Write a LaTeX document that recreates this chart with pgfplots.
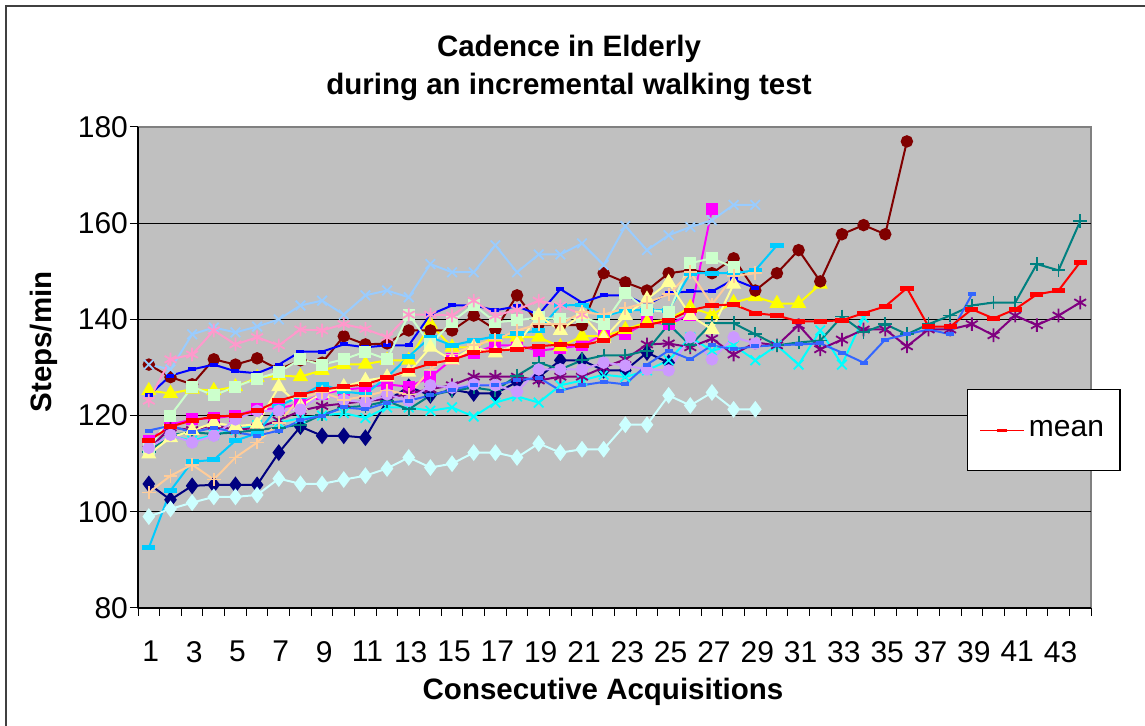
\documentclass[border=0pt]{standalone}
\usepackage{fontspec}
\setmainfont{Liberation Sans}
\usepackage{pgfplots}
\pgfplotsset{compat=1.18}

\definecolor{plotgray}{HTML}{C0C0C0}
\definecolor{edgegray}{HTML}{808080}
\definecolor{cNavy}{HTML}{000080}
\definecolor{cMagenta}{HTML}{FF00FF}
\definecolor{cYellow}{HTML}{FFFF00}
\definecolor{cCyan}{HTML}{00FFFF}
\definecolor{cPurple}{HTML}{800080}
\definecolor{cMaroon}{HTML}{800000}
\definecolor{cTeal}{HTML}{008080}
\definecolor{cBlue}{HTML}{0000FF}
\definecolor{cSky}{HTML}{00CCFF}
\definecolor{cLtCyan}{HTML}{CCFFFF}
\definecolor{cLtGreen}{HTML}{CCFFCC}
\definecolor{cLtYellow}{HTML}{FFFF99}
\definecolor{cPaleBlue}{HTML}{99CCFF}
\definecolor{cPink}{HTML}{FF99CC}
\definecolor{cLavender}{HTML}{CC99FF}
\definecolor{cTan}{HTML}{FFCC99}
\definecolor{cRoyal}{HTML}{3366FF}

\pgfplotsset{
  ser/.style={line width=1pt, mark options={solid}},
  diam/.style={ser, mark=diamond*, mark size=3.4pt},
  sqr/.style={ser, mark=square*, mark size=2.5pt},
  tri/.style={ser, mark=triangle*, mark size=3.4pt},
  crs/.style={ser, mark=x, mark size=3.4pt, mark options={line width=0.9pt}},
  ast/.style={ser, mark=asterisk, mark size=3.4pt, mark options={line width=0.9pt}},
  dot/.style={ser, mark=*, mark size=2.6pt},
  pls/.style={ser, mark=+, mark size=3.4pt, mark options={line width=0.9pt}},
  shortdash/.style={ser, mark=-, mark size=2pt, mark options={line width=2pt}},
  longdash/.style={ser, mark=-, mark size=3.3pt, mark options={line width=2.4pt}},
}

\begin{document}
\begin{tikzpicture}
\path[use as bounding box] (0,0) rectangle (572.5pt,363pt);
\draw[color=black!75, line width=1pt] (3pt,0) -- (3pt,360pt) -- (572.5pt,360pt);

\node[anchor=base, font=\fontsize{14.75}{17}\selectfont\bfseries] at (284.5pt,334.5pt) {Cadence in Elderly};
\node[anchor=base, font=\fontsize{14.75}{17}\selectfont\bfseries] at (284.5pt,315.5pt) {during an incremental walking test};
\node[anchor=base, rotate=90, font=\fontsize{14.75}{17}\selectfont\bfseries] at (25.5pt,192pt) {Steps/min};
\node[anchor=base, font=\fontsize{14.75}{17}\selectfont\bfseries] at (301.5pt,13pt) {Consecutive Acquisitions};

\begin{axis}[
  at={(69pt,59pt)}, anchor=south west,
  scale only axis, width=476.5pt, height=240.5pt,
  xmin=0.5, xmax=44.5, ymin=80, ymax=180,
  axis x line*=bottom, axis y line*=left,
  axis line style={black, line width=0.6pt, -},
  axis background/.style={fill=plotgray, draw=edgegray, line width=0.8pt},
  xtick={1,3,...,43},
  major x tick style={draw=none},
  minor xtick={0.5,1.5,...,44.5},
  ytick={80,100,...,180},
  tick align=outside,
  major tick length=4pt, minor tick length=4pt,
  tick style={black, line width=0.5pt},
  extra y ticks={100,120,140,160}, extra y tick labels={},
  extra y tick style={grid=major, major grid style={black, line width=0.6pt}, major tick length=0pt},
  tick label style={font=\fontsize{15}{18}\selectfont},
  /pgf/number format/assume math mode=true,
  xticklabel style={yshift=-9pt, xshift=1pt},
  yticklabel style={xshift=2.5pt},
  legend style={at={(0.870,0.455)}, anchor=north west, draw=black, fill=white,
    line width=0.6pt, font=\fontsize{15}{18}\selectfont, inner xsep=6pt, inner ysep=13.5pt},
  legend image code/.code={
    \draw[#1, mark=none, line width=0.6pt] (0pt,0pt) -- (22pt,0pt);
    \draw[#1, line width=0.6pt, mark size=2.5pt, mark options={line width=1.6pt}] plot coordinates {(11pt,0pt)};},
  clip=false,
]

% 1 navy diamonds
\addplot[diam, color=cNavy, forget plot] coordinates {
(1,105.8)(2,102.5)(3,105.4)(4,105.6)(5,105.6)(6,105.6)(7,112.3)(8,117.7)(9,115.8)(10,115.8)(11,115.4)(12,123.1)(13,126)(14,124.2)(15,125.4)(16,124.6)(17,124.6)(18,127)(19,128)(20,131.5)(21,131.5)(22,129.4)(23,129.4)(24,133.1)(25,131)};
% 2 magenta squares
\addplot[sqr, color=cMagenta, forget plot] coordinates {
(1,114.8)(2,118.1)(3,119.2)(4,119.5)(5,120)(6,121.3)(7,121.5)(8,122.5)(9,124.5)(10,125.4)(11,125.8)(12,126.5)(13,126)(14,128)(15,131.7)(16,133)(17,134.6)(18,134.6)(19,133.5)(20,134)(21,134.6)(22,136.9)(23,136.9)(24,139.4)(25,139)(26,141)(27,162.9)};
% 3 yellow triangles
\addplot[tri, color=cYellow, forget plot] coordinates {
(1,125.2)(2,124.6)(3,125.5)(4,125.2)(5,126)(6,127.9)(7,128.3)(8,128.1)(9,129.4)(10,130.6)(11,130.7)(12,131.5)(13,131.5)(14,139)(15,134.2)(16,134.2)(17,136.3)(18,136.3)(19,136.3)(20,134.3)(21,136.5)(22,136.5)(23,137.9)(24,139.4)(25,140)(26,142.5)(27,141)(28,143.5)(29,144.7)(30,143.3)(31,143.3)(32,147.3)};
% 4 cyan x
\addplot[crs, color=cCyan, forget plot] coordinates {
(1,114)(2,115.8)(3,114.8)(4,116)(5,117)(6,118)(7,118.5)(8,119.5)(9,120)(10,120.5)(11,119.5)(12,121.7)(13,121.7)(14,121)(15,121.7)(16,119.8)(17,122.7)(18,124)(19,122.7)(20,126.3)(21,127.3)(22,128.5)(23,128)(24,129.4)(25,131.5)(26,136.3)(27,133.5)(28,134.6)(29,131.5)(30,134.6)(31,130.6)(32,137.7)(33,130.6)(34,140.4)};
% 5 purple stars
\addplot[ast, color=cPurple, forget plot] coordinates {
(1,113)(2,117.5)(3,117)(4,118)(5,117)(6,117.5)(7,119)(8,121)(9,122)(10,122.5)(11,123)(12,123.5)(13,124.6)(14,125.5)(15,126.3)(16,128.1)(17,128.1)(18,128.1)(19,127.3)(20,128.1)(21,128.1)(22,130)(23,131.7)(24,134.8)(25,135)(26,134.2)(27,136)(28,132.7)(29,135.2)(30,134.6)(31,138.8)(32,133.8)(33,135.8)(34,137.9)(35,137.9)(36,134.4)(37,137.9)(38,137.9)(39,139)(40,136.7)(41,140.8)(42,138.8)(43,140.8)(44,143.5)};
% 6 maroon circles
\addplot[dot, color=cMaroon, forget plot] coordinates {
(1,130.6)(2,128)(3,126.5)(4,131.7)(5,130.6)(6,131.9)(7,129.6)(8,131.5)(9,131)(10,136.5)(11,134.8)(12,135)(13,137.7)(14,137.7)(15,137.7)(16,140.8)(17,137.9)(18,145)(19,139)(20,138.8)(21,138.8)(22,149.6)(23,147.7)(24,146)(25,149.6)(26,150.2)(27,149.6)(28,152.7)(29,146)(30,149.6)(31,154.4)(32,147.9)(33,157.7)(34,159.6)(35,157.7)(36,177)};
% 7 teal plus
\addplot[pls, color=cTeal, forget plot] coordinates {
(1,112.5)(2,116)(3,116.5)(4,116.2)(5,116.5)(6,117)(7,117.5)(8,118.1)(9,120.2)(10,121.7)(11,122)(12,123)(13,121.3)(14,124.2)(15,125.2)(16,125.8)(17,125.2)(18,128.3)(19,131)(20,129.6)(21,131.5)(22,132.5)(23,132.5)(24,133.5)(25,139)(26,134.6)(27,139.2)(28,139.2)(29,136.9)(30,134.6)(31,135.2)(32,135.6)(33,140.6)(34,137.3)(35,139)(36,136.9)(37,139)(38,140.8)(39,142.9)(40,143.5)(41,143.5)(42,151.5)(43,150.2)(44,160.4)};
% 8 blue dash
\addplot[shortdash, color=cBlue, forget plot] coordinates {
(1,124.2)(2,128.3)(3,129.6)(4,130.6)(5,129.2)(6,128.8)(7,130.6)(8,133.3)(9,133.3)(10,134.8)(11,134.2)(12,134.6)(13,134.6)(14,141)(15,142.9)(16,142.9)(17,141.9)(18,142.7)(19,141)(20,146.3)(21,143.5)(22,145)(23,145)(24,143)(25,145.5)(26,145.8)(27,145.8)(28,148.3)(29,146.5)};
% 9 sky blue dash
\addplot[longdash, color=cSky, forget plot] coordinates {
(1,92.5)(2,104.4)(3,110.4)(4,110.8)(5,114.8)(6,116.3)(7,122)(8,124)(9,126.5)(10,125)(11,124.5)(12,128)(13,132.3)(14,136.3)(15,134.6)(16,135.6)(17,136.5)(18,137)(19,137.7)(20,142.9)(21,143)(22,140.6)(23,141.9)(24,141.9)(25,141.9)(26,149.6)(27,149.6)(28,149.6)(29,150.2)(30,155.4)};
% 10 light cyan diamonds
\addplot[diam, color=cLtCyan, forget plot] coordinates {
(1,99)(2,100.6)(3,101.9)(4,103.1)(5,103.1)(6,103.5)(7,106.9)(8,105.8)(9,105.8)(10,106.7)(11,107.5)(12,109)(13,111.3)(14,109.2)(15,110)(16,112.3)(17,112.3)(18,111.3)(19,114.2)(20,112.3)(21,113)(22,113)(23,118.1)(24,118.1)(25,124.2)(26,122.1)(27,124.8)(28,121.3)(29,121.3)};
% 11 light green squares
\addplot[sqr, color=cLtGreen, forget plot] coordinates {
(1,113)(2,120)(3,126)(4,124.2)(5,126)(6,127.7)(7,129)(8,131.7)(9,130.6)(10,131.7)(11,133.3)(12,131.7)(13,141)(14,134.8)(15,139.5)(16,143)(17,139.4)(18,139.8)(19,140.4)(20,140)(21,140.5)(22,139)(23,145.5)(24,142)(25,141.5)(26,151.7)(27,152.7)(28,150.8)};
% 12 light yellow triangles
\addplot[tri, color=cLtYellow, forget plot] coordinates {
(1,112)(2,115.4)(3,116.9)(4,118.5)(5,117.8)(6,118.2)(7,126)(8,122)(9,124.6)(10,126)(11,127.3)(12,128)(13,129)(14,134.2)(15,131.5)(16,134.2)(17,133)(18,134.8)(19,140.8)(20,137.7)(21,141)(22,136)(23,140.8)(24,144.2)(25,147.7)(26,140.8)(27,137.9)(28,147.3)};
% 13 pale blue x
\addplot[crs, color=cPaleBlue, forget plot] coordinates {
(1,130.6)(2,129.6)(3,136.9)(4,138.3)(5,137.3)(6,138.5)(7,140)(8,142.9)(9,143.9)(10,141)(11,145)(12,146)(13,144.6)(14,151.5)(15,149.8)(16,149.8)(17,155.4)(18,149.8)(19,153.5)(20,153.5)(21,155.8)(22,151.3)(23,159.4)(24,154.4)(25,157.5)(26,159.2)(27,160.6)(28,163.8)(29,163.8)};
% 14 pink stars
\addplot[ast, color=cPink, forget plot] coordinates {
(1,123.1)(2,131.7)(3,132.7)(4,137.7)(5,134.8)(6,136.3)(7,134.6)(8,137.9)(9,137.7)(10,139)(11,138)(12,136.3)(13,141)(14,141)(15,140.8)(16,143.9)(17,140.8)(18,142)(19,143.9)(20,142.9)(21,141)};
% 15 lavender circles
\addplot[dot, color=cLavender, forget plot] coordinates {
(1,113.3)(2,116)(3,114.4)(4,115.8)(5,119.2)(6,121)(7,121)(8,121.3)(9,124.4)(10,123.3)(11,122.7)(12,124.4)(13,123.1)(14,126.3)(15,125.8)(16,126.5)(17,126.3)(18,125)(19,129.6)(20,129.6)(21,129.6)(22,131)(23,130.4)(24,129.6)(25,129.4)(26,136.3)(27,131.7)(28,136.3)(29,135)};
% 16 tan plus
\addplot[pls, color=cTan, forget plot] coordinates {
(1,104)(2,107.5)(3,109.8)(4,106.7)(5,111.3)(6,114.4)(7,118.5)(8,123.8)(9,124.8)(10,123.3)(11,124)(12,125.2)(13,124.4)(14,129.6)(15,132.7)(16,134.6)(17,135.8)(18,137.7)(19,139)(20,139)(21,141.5)(22,141)(23,142.3)(24,143.5)(25,145.2)(26,149.8)(27,143.1)(28,149)(29,149.6)};
% 17 royal blue dash
\addplot[shortdash, color=cRoyal, forget plot] coordinates {
(1,116.9)(2,117.9)(3,116.5)(4,117.5)(5,116.5)(6,115.8)(7,116.9)(8,119)(9,120)(10,121.7)(11,121.3)(12,122.7)(13,123.1)(14,124.2)(15,125.4)(16,126.3)(17,126.3)(18,127.3)(19,127.9)(20,125.2)(21,126.3)(22,127)(23,126.5)(24,130.6)(25,133.5)(26,131.7)(27,134.6)(28,133.8)(29,134.4)(30,134.6)(31,134.8)(32,135)(33,133.1)(34,131)(35,135.8)(36,136.9)(37,137.9)(38,136.9)(39,145.2)};
% mean
\addplot[longdash, color=red] coordinates {
(1,114.8)(2,117.7)(3,119)(4,119.8)(5,120)(6,121)(7,123.1)(8,124.4)(9,125.4)(10,126)(11,126.5)(12,127.9)(13,129.4)(14,130.8)(15,131.6)(16,133.1)(17,133.5)(18,133.8)(19,134.4)(20,134.8)(21,134.6)(22,135.6)(23,137.9)(24,138.8)(25,139.8)(26,141.9)(27,142.9)(28,143.1)(29,141.3)(30,140.8)(31,139.6)(32,139.6)(33,139.8)(34,141.3)(35,142.7)(36,146.5)(37,138.5)(38,138.5)(39,142.1)(40,140.2)(41,142.1)(42,145.2)(43,146)(44,151.9)};
\addlegendentry{mean}

\end{axis}
\end{tikzpicture}
\end{document}
